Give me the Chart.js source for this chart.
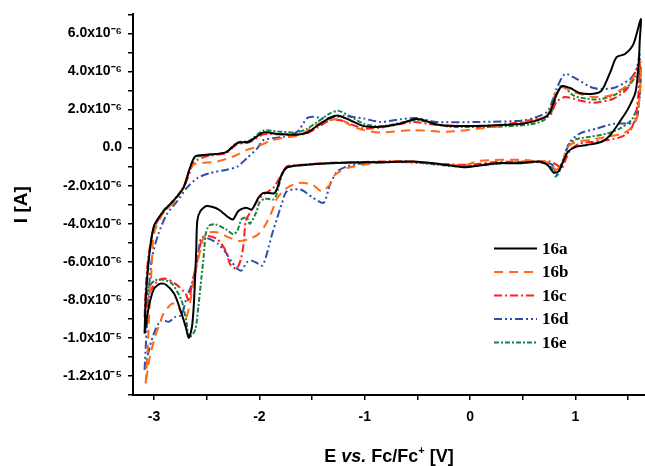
<!DOCTYPE html>
<html>
<head>
<meta charset="utf-8">
<script src="https://cdn.jsdelivr.net/npm/chart.js@4.4.1/dist/chart.umd.min.js"></script>
<style>
  html, body { margin: 0; padding: 0; background: #fff; }
  #wrap { width: 645px; height: 466px; }
</style>
</head>
<body>
<div id="wrap"><canvas id="cv"></canvas></div>
<script>
const labels = ['16a', '16b', '16c', '16d', '16e'];
const colors = ['#000000', '#FF6A13', '#FF1F1F', '#2E4FA8', '#168443'];
const dashes = [[], [9, 6], [8, 3, 2, 3], [8, 3, 2, 3, 2, 3], [5, 2, 2, 2]];

// potential E (V vs Fc/Fc+) and current I (in 1e-6 A), one closed scan each
const e16a = [-3.09,-3.08,-3.06,-3.04,-3.00,-2.91,-2.81,-2.72,-2.66,-2.61,-2.50,-2.32,-2.21,-2.10,-1.96,-1.83,-1.65,-1.55,-1.45,-1.33,-1.25,-1.14,-1.01,-0.85,-0.66,-0.52,-0.44,-0.32,-0.06,0.25,0.51,0.70,0.76,0.81,0.87,0.95,1.04,1.17,1.25,1.33,1.39,1.47,1.55,1.62,
  1.61,1.60,1.57,1.50,1.42,1.33,1.25,1.11,1.01,0.93,0.89,0.84,0.79,0.74,0.66,0.47,0.25,0.09,-0.06,-0.28,-0.54,-0.85,-1.01,-1.33,-1.64,-1.74,-1.79,-1.83,-1.86,-1.96,-2.01,-2.07,-2.13,-2.20,-2.25,-2.29,-2.39,-2.50,-2.56,-2.59,-2.60,-2.62,-2.64,-2.67,-2.70,-2.75,-2.81,-2.89,-2.94,-3.00,-3.05,-3.09];
const i16a = [-9.77,-8.0,-6.5,-5.4,-4.1,-3.34,-2.75,-2.1,-1.08,-0.47,-0.38,-0.25,0.24,0.31,0.80,0.72,0.68,0.78,1.15,1.57,1.68,1.44,1.13,1.10,1.27,1.50,1.44,1.22,1.13,1.18,1.27,1.56,1.88,2.66,3.23,3.13,2.87,2.83,3.01,3.96,4.75,4.92,5.44,6.75,
  5.6,4.4,2.92,2.05,1.36,0.66,0.31,0.14,0.05,-0.21,-0.64,-1.25,-1.30,-0.94,-0.73,-0.82,-0.82,-0.94,-1.03,-0.87,-0.73,-0.77,-0.77,-0.82,-0.94,-1.05,-1.43,-2.12,-2.40,-2.38,-2.64,-3.24,-3.16,-3.33,-3.77,-3.68,-3.24,-3.07,-3.33,-3.85,-5.42,-8.0,-9.41,-10.0,-9.41,-8.54,-7.67,-7.19,-7.15,-7.41,-8.37,-9.77];

const e16b = [-3.08,-3.06,-3.04,-3.02,-3.00,-2.91,-2.81,-2.72,-2.66,-2.61,-2.40,-2.25,-2.12,-2.02,-1.90,-1.77,-1.61,-1.52,-1.40,-1.30,-1.23,-1.14,-1.01,-0.85,-0.54,-0.22,0.09,0.47,0.73,0.81,0.87,0.98,1.17,1.33,1.49,1.58,1.62,
  1.61,1.58,1.52,1.45,1.30,1.14,1.01,0.93,0.89,0.84,0.81,0.76,0.60,0.47,0.09,-0.06,-0.38,-0.70,-1.01,-1.17,-1.28,-1.33,-1.41,-1.50,-1.63,-1.74,-1.83,-1.88,-1.94,-2.01,-2.10,-2.20,-2.29,-2.39,-2.48,-2.53,-2.57,-2.62,-2.66,-2.70,-2.74,-2.78,-2.83,-2.91,-2.94,-2.99,-3.04,-3.08];
const i16b = [-12.4,-10.5,-8.0,-6.0,-4.5,-3.4,-2.85,-2.05,-1.15,-0.85,-0.73,-0.47,-0.12,0.05,0.35,0.52,0.66,1.0,1.35,1.47,1.50,1.18,0.92,0.80,0.92,0.83,1.00,1.27,1.70,2.83,3.18,2.92,2.66,2.74,3.27,3.96,4.5,
  2.8,1.5,1.0,0.74,0.57,0.40,0.31,0.05,-0.56,-1.08,-1.16,-0.82,-0.70,-0.64,-0.69,-0.94,-0.82,-0.72,-0.90,-1.08,-1.42,-1.94,-2.29,-1.94,-1.86,-2.12,-2.64,-3.33,-4.03,-4.55,-4.81,-4.90,-4.72,-4.46,-4.46,-4.72,-5.6,-6.9,-8.2,-9.0,-8.7,-8.3,-8.2,-8.71,-9.15,-9.93,-11.0,-12.4];

const e16c = [-3.09,-3.08,-3.06,-3.03,-3.00,-2.91,-2.81,-2.72,-2.66,-2.62,-2.50,-2.32,-2.21,-2.10,-1.96,-1.83,-1.65,-1.55,-1.45,-1.33,-1.23,-1.14,-1.01,-0.85,-0.54,-0.40,-0.22,0.25,0.66,0.76,0.82,0.90,1.04,1.17,1.36,1.49,1.58,1.61,
  1.60,1.57,1.52,1.45,1.36,1.17,1.04,0.95,0.90,0.87,0.82,0.76,0.63,0.25,0.0,-0.30,-0.60,-1.01,-1.33,-1.64,-1.74,-1.80,-1.87,-1.96,-2.02,-2.09,-2.13,-2.15,-2.18,-2.22,-2.28,-2.32,-2.40,-2.50,-2.55,-2.59,-2.64,-2.67,-2.70,-2.80,-2.89,-2.96,-3.03,-3.07,-3.09];
const i16c = [-8.9,-7.5,-6.0,-4.9,-4.2,-3.4,-2.8,-2.1,-1.3,-0.75,-0.45,-0.30,0.18,0.28,0.70,0.70,0.68,0.75,1.05,1.44,1.44,1.25,1.0,1.05,1.35,1.25,1.15,1.18,1.53,1.70,2.40,2.66,2.48,2.36,2.57,3.09,4.13,4.5,
  3.0,1.6,0.9,0.6,0.45,0.31,0.22,-0.12,-0.73,-1.08,-0.90,-0.73,-0.73,-0.75,-0.90,-0.85,-0.72,-0.75,-0.80,-0.92,-0.99,-1.51,-2.12,-2.46,-2.81,-3.42,-3.85,-5.07,-5.94,-6.37,-6.11,-5.42,-4.81,-4.64,-4.90,-5.94,-7.15,-8.1,-7.67,-7.15,-6.89,-6.98,-7.5,-8.3,-8.9];

const e16d = [-3.09,-3.07,-3.05,-3.02,-2.96,-2.88,-2.78,-2.69,-2.59,-2.47,-2.31,-2.21,-2.12,-2.02,-1.96,-1.77,-1.64,-1.55,-1.49,-1.36,-1.26,-1.20,-1.01,-0.85,-0.66,-0.51,-0.32,0.09,0.51,0.73,0.82,0.90,1.01,1.17,1.36,1.52,1.58,1.61,
  1.61,1.59,1.55,1.49,1.36,1.20,1.04,0.95,0.90,0.85,0.82,0.78,0.70,0.40,0.10,-0.10,-0.40,-0.70,-1.01,-1.17,-1.26,-1.33,-1.39,-1.49,-1.61,-1.74,-1.79,-1.83,-1.88,-1.93,-1.97,-2.01,-2.07,-2.12,-2.17,-2.21,-2.26,-2.32,-2.39,-2.47,-2.55,-2.59,-2.64,-2.69,-2.74,-2.80,-2.86,-2.93,-2.99,-3.04,-3.09];
const i16d = [-11.67,-9.5,-7.5,-5.8,-4.55,-3.51,-2.81,-2.12,-1.60,-1.34,-1.16,-1.0,-0.56,-0.04,0.40,0.57,0.83,1.53,1.62,1.53,1.62,1.67,1.53,1.35,1.49,1.56,1.35,1.35,1.44,1.88,3.09,3.87,3.61,3.13,3.13,3.61,4.13,4.9,
  3.2,1.7,1.3,1.27,1.25,1.0,0.74,0.31,-0.38,-1.08,-1.42,-0.90,-0.78,-0.80,-0.90,-0.98,-0.82,-0.75,-0.82,-0.99,-1.25,-1.94,-2.90,-2.64,-2.20,-2.29,-2.99,-3.68,-4.55,-5.59,-6.2,-6.11,-5.94,-6.03,-6.46,-6.37,-6.03,-5.51,-5.07,-4.81,-4.72,-5.94,-7.15,-7.85,-8.8,-8.9,-9.15,-9.06,-9.6,-10.45,-11.67];

const e16e = [-3.08,-3.07,-3.05,-3.02,-2.98,-2.91,-2.81,-2.72,-2.66,-2.61,-2.50,-2.32,-2.21,-2.10,-1.96,-1.83,-1.65,-1.55,-1.45,-1.33,-1.25,-1.14,-1.01,-0.85,-0.66,-0.52,-0.40,-0.20,0.25,0.57,0.70,0.78,0.82,0.87,0.98,1.11,1.23,1.36,1.49,1.58,1.62,
  1.61,1.58,1.53,1.42,1.30,1.14,1.01,0.93,0.89,0.84,0.81,0.78,0.70,0.57,0.25,-0.06,-0.30,-0.60,-1.01,-1.33,-1.64,-1.74,-1.79,-1.84,-1.87,-1.95,-2.00,-2.03,-2.09,-2.12,-2.17,-2.21,-2.25,-2.32,-2.42,-2.48,-2.51,-2.53,-2.55,-2.58,-2.61,-2.67,-2.69,-2.74,-2.83,-2.91,-2.99,-3.05,-3.08];
const i16e = [-8.4,-7.0,-5.8,-4.6,-4.0,-3.3,-2.75,-2.05,-1.1,-0.5,-0.40,-0.25,0.26,0.35,0.90,0.85,0.80,0.98,1.35,1.80,1.93,1.65,1.25,1.12,1.30,1.45,1.35,1.10,1.10,1.22,1.44,1.96,2.74,3.27,2.74,2.57,2.54,2.74,3.18,3.79,4.3,
  2.6,2.0,1.44,1.0,0.74,0.57,0.45,0.14,-0.56,-1.34,-1.51,-1.08,-0.82,-0.73,-0.85,-1.0,-0.90,-0.75,-0.78,-0.82,-0.94,-1.05,-1.5,-2.5,-2.73,-2.68,-2.9,-3.4,-4.0,-3.68,-3.77,-4.38,-4.55,-4.29,-4.03,-4.11,-4.55,-5.77,-6.81,-8.37,-9.58,-10.0,-9.23,-8.02,-7.15,-6.94,-6.98,-7.33,-8.4];

const potentials = [e16a, e16b, e16c, e16d, e16e];
const currents = [i16a, i16b, i16c, i16d, i16e];

const supMap = { '-': '\u207B', '0': '\u2070', '1': '\u00B9', '2': '\u00B2', '3': '\u00B3', '4': '\u2074', '5': '\u2075', '6': '\u2076', '7': '\u2077', '8': '\u2078', '9': '\u2079' };
const sup = s => String(s).split('').map(c => supMap[c] || c).join('');

function yLabel(v) {
  const r = Math.round(v);
  if (r === 0) return '0.0';
  if (r % 2 !== 0) return '';
  if (Math.abs(r) >= 10) return (r / 10).toFixed(1) + 'x10' + sup(-5);
  return r.toFixed(1) + 'x10' + sup(-6);
}

// legend drawn inside the plot, lower right
const legendBox = {
  id: 'legendBox',
  afterDatasetsDraw(chart) {
    const { ctx, chartArea: ca } = chart;
    ctx.save();
    const x0 = ca.right - 151, x1 = ca.right - 108;
    let y = ca.top + 234;
    chart.data.datasets.forEach(ds => {
      ctx.beginPath();
      ctx.setLineDash(ds.borderDash);
      ctx.strokeStyle = ds.borderColor;
      ctx.lineWidth = 2;
      ctx.moveTo(x0, y);
      ctx.lineTo(x1, y);
      ctx.stroke();
      ctx.setLineDash([]);
      ctx.fillStyle = '#000';
      ctx.font = 'bold 17px "Liberation Serif", "Times New Roman", serif';
      ctx.textBaseline = 'middle';
      ctx.fillText(ds.label, x1 + 5, y + 1);
      y += 23.5;
    });
    ctx.restore();
  }
};

// x title with italic "vs." and superscript +
const xTitle = {
  id: 'xTitle',
  afterDraw(chart) {
    const { ctx, chartArea: ca } = chart;
    const fam = '"Liberation Sans", Arial, sans-serif';
    const parts = [
      ['E ', 'bold 18px ' + fam, 0],
      ['vs.', 'italic bold 18px ' + fam, 0],
      [' Fc/Fc', 'bold 18px ' + fam, 0],
      ['+', 'bold 11px ' + fam, -8],
      [' [V]', 'bold 18px ' + fam, 0]
    ];
    ctx.save();
    ctx.fillStyle = '#000';
    ctx.textBaseline = 'alphabetic';
    let w = 0;
    parts.forEach(p => { ctx.font = p[1]; w += ctx.measureText(p[0]).width; });
    let x = (ca.left + ca.right) / 2 - w / 2;
    const base = ca.bottom + 67;
    parts.forEach(p => {
      ctx.font = p[1];
      ctx.fillText(p[0], x, base + p[2]);
      x += ctx.measureText(p[0]).width;
    });
    ctx.restore();
  }
};

const tickFont = { family: '"Liberation Sans", Arial, sans-serif', size: 14, weight: 'bold' };

new Chart(document.getElementById('cv'), {
  type: 'scatter',
  data: {
    datasets: labels.map((lab, k) => ({
      label: lab,
      data: potentials[k].map((x, j) => ({ x: x, y: currents[k][j] })),
      showLine: true,
      borderColor: colors[k],
      backgroundColor: colors[k],
      borderDash: dashes[k],
      borderWidth: 2,
      pointRadius: 0,
      tension: 0.25
    }))
  },
  options: {
    responsive: true,
    maintainAspectRatio: false,
    animation: false,
    layout: { padding: { top: 12, right: 0, left: 0, bottom: 0 } },
    plugins: { legend: { display: false }, tooltip: { enabled: false } },
    scales: {
      x: {
        type: 'linear',
        min: -3.2,
        max: 1.66,
        border: { display: true, color: '#000', width: 2 },
        grid: { drawOnChartArea: false, drawTicks: true, tickLength: 5, color: '#000', lineWidth: 1.5 },
        ticks: {
          stepSize: 0.5,
          includeBounds: false,
          autoSkip: false,
          maxRotation: 0,
          padding: 9,
          color: '#000',
          font: tickFont,
          callback: v => Math.abs(v - Math.round(v)) < 1e-6 ? String(Math.round(v)) : ''
        },
        afterFit: s => { s.height = 71; }
      },
      y: {
        type: 'linear',
        min: -13,
        max: 7,
        border: { display: true, color: '#000', width: 2 },
        grid: { drawOnChartArea: false, drawTicks: true, tickLength: 5, color: '#000', lineWidth: 1.5 },
        ticks: {
          stepSize: 1,
          autoSkip: false,
          padding: 6,
          color: '#000',
          font: tickFont,
          callback: v => yLabel(v)
        },
        title: {
          display: true,
          text: 'I [A]',
          color: '#000',
          font: { family: '"Liberation Sans", Arial, sans-serif', size: 19, weight: 'bold' },
          padding: { top: 10, bottom: 0 }
        },
        afterFit: s => { s.width = 133; }
      }
    }
  },
  plugins: [legendBox, xTitle]
});
</script>
</body>
</html>
